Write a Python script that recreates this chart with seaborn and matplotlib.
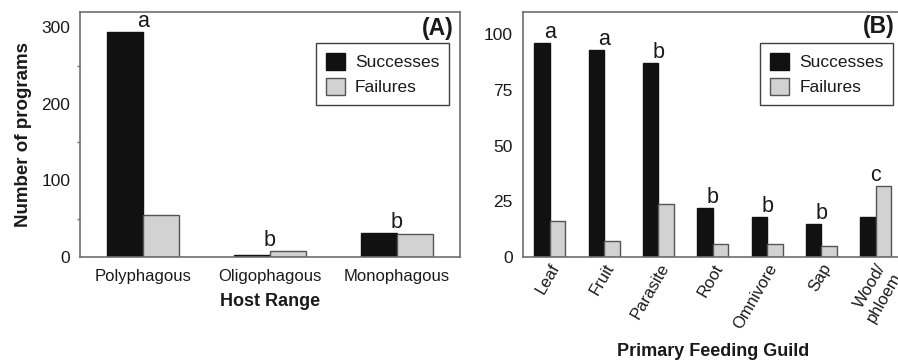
import matplotlib
matplotlib.use("Agg")
import matplotlib.pyplot as plt
import seaborn as sns
import pandas as pd
from matplotlib.ticker import FixedLocator, MultipleLocator

# ---- data ----
host_range = ["Polyphagous", "Oligophagous", "Monophagous"]
host_success = [294, 2, 31]
host_failure = [55, 8, 30]
host_letters = ["a", "b", "b"]

guild = ["Leaf", "Fruit", "Parasite", "Root", "Omnivore", "Sap", "Wood/\nphloem"]
guild_success = [96, 93, 87, 22, 18, 15, 18]
guild_failure = [16, 7, 24, 6, 6, 5, 32]
guild_letters = ["a", "a", "b", "b", "b", "b", "c"]

series = ["Successes", "Failures"]

sns.set_style("white")
plt.rcParams["font.family"] = ["Liberation Sans", "DejaVu Sans"]

BLACK = "#111111"
GRAY = "#d2d2d2"
SPINE = "#6e6e6e"
TXT = "#1a1a1a"

fig = plt.figure(figsize=(8.98, 3.63), dpi=100)
axA = fig.add_axes([80 / 898, 1 - 257 / 363, 380 / 898, 245 / 363])
axB = fig.add_axes([522.6 / 898, 1 - 257 / 363, 380.4 / 898, 245 / 363])


def long_df(cats, s, f):
    rows = []
    for c, a, b in zip(cats, s, f):
        rows.append({"cat": c, "series": series[0], "value": a})
        rows.append({"cat": c, "series": series[1], "value": b})
    return pd.DataFrame(rows)


def draw(ax, cats, s, f, letters, ymax, yticks, minor, xlabel, xlabel_y,
         rot, leg_anchor, panel, panel_xy):
    df = long_df(cats, s, f)
    sns.barplot(data=df, x="cat", y="value", hue="series", order=cats,
                hue_order=series, palette=[BLACK, GRAY], width=0.57,
                saturation=1, ax=ax, linewidth=1.0, edgecolor=BLACK)
    n = len(cats)
    for p in ax.patches:
        fc = p.get_facecolor()
        if fc[0] > 0.5:
            p.set_edgecolor("#555555")
        else:
            p.set_edgecolor(BLACK)
    ax.set_xlim(-0.5, n - 0.5)
    ax.set_ylim(0, ymax)
    ax.set_yticks(yticks)
    if minor:
        ax.yaxis.set_minor_locator(MultipleLocator(minor))
    ax.xaxis.set_minor_locator(FixedLocator([i + 0.5 for i in range(n - 1)]))
    ax.tick_params(axis="x", which="major", length=0, labelsize=12,
                   labelcolor=TXT, pad=(9 if rot == 0 else 3))
    ax.tick_params(axis="x", which="minor", length=9, direction="inout",
                   color=SPINE, width=1.2)
    ax.tick_params(axis="y", which="major", length=5.5, direction="out",
                   color=SPINE, width=1.2, labelsize=12.5, labelcolor=TXT,
                   pad=1.5)
    ax.tick_params(axis="y", which="minor", length=2.5, direction="out",
                   color=SPINE, width=1.0, left=True)
    if rot:
        ax.set_xticks(range(n))
        ax.set_xticklabels(cats, rotation=rot, ha="right", va="top",
                           rotation_mode="anchor")
    for sp in ax.spines.values():
        sp.set_color(SPINE)
        sp.set_linewidth(1.2)
    ax.set_xlabel(xlabel, fontsize=13, fontweight="bold", color=TXT)
    ax.xaxis.set_label_coords(0.5, xlabel_y)
    ax.xaxis.label.set_va("top")
    # significance letters
    for i, (a, b, L) in enumerate(zip(s, f, letters)):
        ax.text(i, max(a, b), L, ha="center", va="bottom", fontsize=15.5,
                color=TXT)
    ax.text(panel_xy[0], panel_xy[1], panel, transform=ax.transAxes,
            ha="right", va="center", fontsize=16.5, fontweight="bold",
            color=TXT)
    h, l = ax.get_legend_handles_labels()
    leg = ax.legend(h, l, loc="upper right", bbox_to_anchor=leg_anchor,
                    borderaxespad=0, fontsize=12.5, frameon=True,
                    fancybox=False, handlelength=1.1, handleheight=1.15,
                    handletextpad=0.6, labelspacing=0.45, borderpad=0.55)
    leg.get_frame().set_edgecolor(BLACK)
    leg.get_frame().set_linewidth(1.0)
    for t in leg.get_texts():
        t.set_color(TXT)


draw(axA, host_range, host_success, host_failure, host_letters, 320,
     [0, 100, 200, 300], 50, "Host Range", -0.147, 0,
     (0.971, 0.873), "(A)", (0.984, 0.932))
axA.set_ylabel("Number of programs", fontsize=13.5, fontweight="bold",
               color=TXT, labelpad=7)

draw(axB, guild, guild_success, guild_failure, guild_letters, 110,
     [0, 25, 50, 75, 100], None, "Primary Feeding Guild", -0.351, 60,
     (0.974, 0.873), "(B)", (0.979, 0.94))
axB.set_ylabel("")

fig.savefig("out.png", dpi=100)
